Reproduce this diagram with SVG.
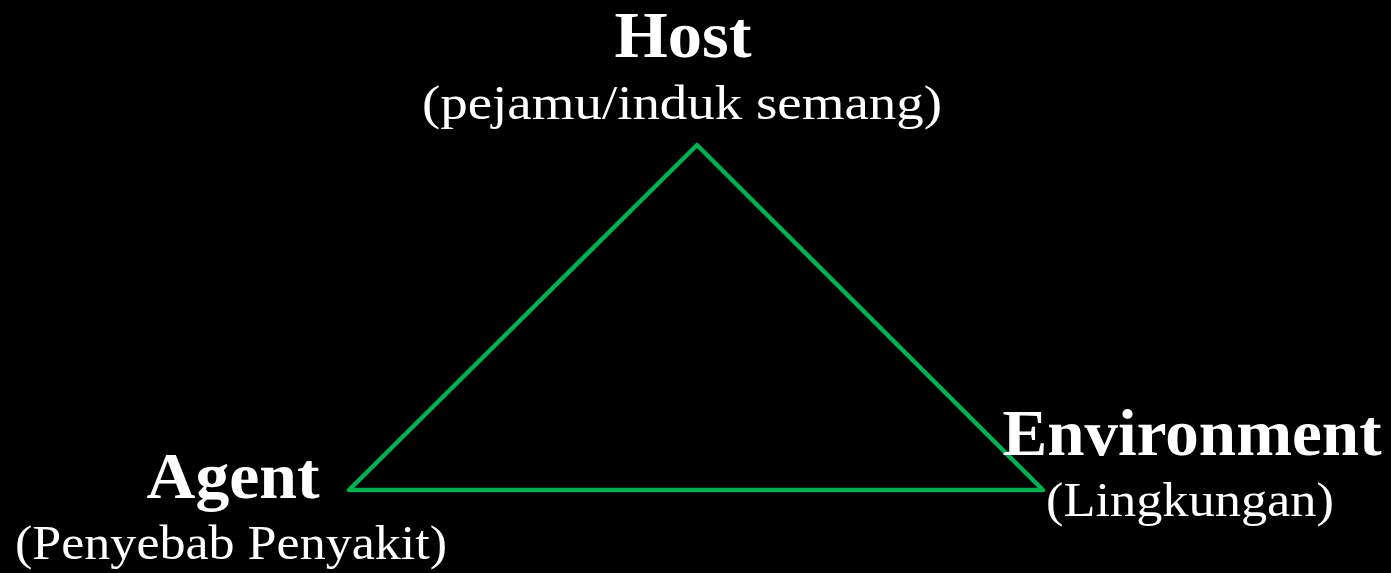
<svg xmlns="http://www.w3.org/2000/svg" width="1391" height="573" viewBox="0 0 1391 573">
<style>
.t{font-family:"Liberation Serif","DejaVu Serif",serif;font-weight:bold;font-size:66px;fill:#fff;text-anchor:middle}
.s{font-family:"Liberation Serif","DejaVu Serif",serif;font-size:49px;fill:#fff;text-anchor:middle}
.edge{stroke:#00B050;stroke-width:4.5;fill:none;stroke-linejoin:round}
</style>
<rect width="1391" height="573" fill="#000"/>
<g id="connectors">
<polygon class="edge" points="697,145 349,490 1043,490"/>
</g>
<g id="host">
<text class="t" x="683" y="57" textLength="137" lengthAdjust="spacingAndGlyphs">Host</text>
<text class="s" x="682" y="119" textLength="520" lengthAdjust="spacingAndGlyphs">(pejamu/induk semang)</text>
</g>
<g id="agent">
<text class="t" x="233" y="498" textLength="173" lengthAdjust="spacingAndGlyphs">Agent</text>
<text class="s" x="231" y="559" textLength="432" lengthAdjust="spacingAndGlyphs">(Penyebab Penyakit)</text>
</g>
<g id="environment">
<text class="t" x="1192" y="455" textLength="379" lengthAdjust="spacingAndGlyphs">Environment</text>
<text class="s" x="1190" y="516" textLength="288" lengthAdjust="spacingAndGlyphs">(Lingkungan)</text>
</g>
</svg>
